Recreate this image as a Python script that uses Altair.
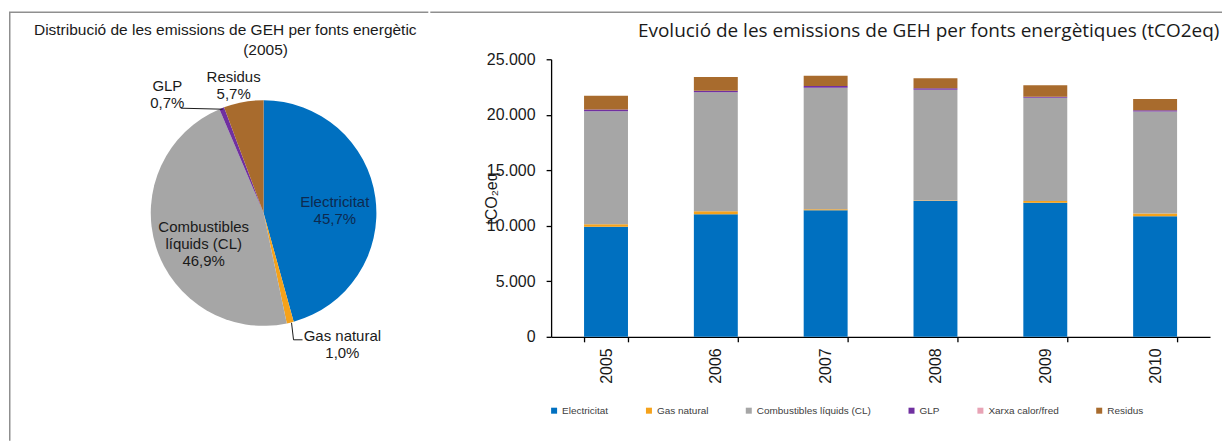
import math
import altair as alt
import pandas as pd

# ---------------- data ----------------
years = ["2005", "2006", "2007", "2008", "2009", "2010"]
sources = ["Electricitat", "Gas natural", "Combustibles líquids (CL)", "GLP",
           "Xarxa calor/fred", "Residus"]
colors = ["#0070C0", "#F5A21B", "#A6A6A6", "#7030A0", "#E8A3B5", "#A86B2D"]

electricitat = [9920, 11030, 11390, 12230, 12080, 10850]
gas_natural = [220, 270, 90, 60, 150, 250]
combustibles = [10180, 10720, 10960, 9970, 9310, 9190]
glp = [150, 150, 150, 120, 90, 110]
xarxa = [0, 0, 0, 0, 0, 0]
residus = [1240, 1230, 930, 900, 1020, 1030]

pie_sources = ["Electricitat", "Gas natural", "Combustibles líquids (CL)", "GLP", "Residus"]
pie_colors = ["#0070C0", "#F5A21B", "#A6A6A6", "#7030A0", "#A86B2D"]
pie_pct = [45.7, 1.0, 46.9, 0.7, 5.7]
pie_labels = ["Electricitat\n45,7%", "Gas natural\n1,0%",
              "Combustibles\nlíquids (CL)\n46,9%", "GLP\n0,7%", "Residus\n5,7%"]

pie_title_1 = "Distribució de les emissions de GEH per fonts energètic"
pie_title_2 = "(2005)"
bar_title = "Evolució de les emissions de GEH per fonts energètiques (tCO2eq)"
y_title = "tCO₂eq"
y_ticks = [0, 5000, 10000, 15000, 20000, 25000]

# ---------------- tables ----------------
series = [electricitat, gas_natural, combustibles, glp, xarxa, residus]
rows = []
for si, (name, vals) in enumerate(zip(sources, series)):
    for y, v in zip(years, vals):
        rows.append({"year": y, "source": name, "value": v, "idx": si})
bar_df = pd.DataFrame(rows)

pie_df = pd.DataFrame({"source": pie_sources, "pct": pie_pct,
                       "label": pie_labels, "idx": list(range(len(pie_sources)))})
one = pd.DataFrame({"k": [0]})

BORDER = "#8f8f8f"
FONT = "Liberation Sans"
OY = -47            # pie panel origin is aligned with the bar plot top
CX, CY, R = 255, 201 + OY, 113

# ---------------- pie panel ----------------
theta_scale = alt.Scale(domain=[0, 100], range=[0, 2 * math.pi])

arc = alt.Chart(pie_df).mark_arc(outerRadius=R).encode(
    theta=alt.Theta("pct:Q", stack=True, scale=theta_scale),
    color=alt.Color("source:N", scale=alt.Scale(domain=pie_sources, range=pie_colors), legend=None),
    order=alt.Order("idx:Q", sort="ascending"),
    x=alt.value(CX), y=alt.value(CY),
)


def pie_label(name, radius, dx, dy, color="#1a1a1a"):
    return (
        alt.Chart(pie_df)
        .transform_window(cum="sum(pct)", sort=[alt.SortField("idx", order="ascending")])
        .transform_calculate(mid="datum.cum - datum.pct / 2")
        .transform_filter(alt.datum.source == name)
        .mark_text(lineBreak="\n", fontSize=15, font=FONT, align="center",
                   baseline="middle", dx=dx, dy=dy, color=color, lineHeight=17)
        .encode(
            theta=alt.Theta("mid:Q", stack=None, scale=theta_scale),
            radius=alt.value(radius),
            text="label:N",
            x=alt.value(CX), y=alt.value(CY),
        )
    )


labels = [
    pie_label("Electricitat", 72, 0, -1, "#0d2a50"),
    pie_label("Combustibles líquids (CL)", 65, 2, -5),
    pie_label("GLP", 125, -50, -11),
    pie_label("Residus", 129, -7, -9),
    pie_label("Gas natural", 135, 47, -8),
]


def seg(x1, y1, x2, y2):
    return alt.Chart(one).mark_rule(color="#1a1a1a", strokeWidth=1).encode(
        x=alt.value(x1), y=alt.value(y1 + OY), x2=alt.value(x2), y2=alt.value(y2 + OY))


leaders = [seg(172, 96, 214, 97), seg(283, 311, 285, 328), seg(285, 328, 294, 328)]

pie_t1 = alt.Chart(pd.DataFrame({"t": [pie_title_1]})).mark_text(
    align="left", baseline="middle", fontSize=15.5, font=FONT, color="#1a1a1a"
).encode(text="t:N", x=alt.value(25), y=alt.value(18 + OY))
pie_t2 = alt.Chart(pd.DataFrame({"t": [pie_title_2]})).mark_text(
    align="center", baseline="middle", fontSize=15.5, font=FONT, color="#1a1a1a"
).encode(text="t:N", x=alt.value(257), y=alt.value(38 + OY))

border_left = alt.Chart(one).mark_rule(color=BORDER, strokeWidth=1.5).encode(
    x=alt.value(0.75), y=alt.value(OY), y2=alt.value(382))
border_top_l = alt.Chart(one).mark_rule(color=BORDER, strokeWidth=1.5).encode(
    x=alt.value(0), x2=alt.value(420), y=alt.value(OY))

pie_panel = alt.layer(border_left, border_top_l, arc, *labels, *leaders, pie_t1, pie_t2).properties(
    width=420, height=278)

# ---------------- bar panel ----------------
bars = alt.Chart(bar_df).mark_bar().encode(
    x=alt.X("year:N", sort=years,
            scale=alt.Scale(paddingInner=0.6, paddingOuter=0.3),
            axis=alt.Axis(title=None, labelAngle=270, labelAlign="right", labelBaseline="middle",
                          labelFontSize=16, labelFont=FONT, labelColor="#1a1a1a",
                          tickBand="extent", tickSize=5, tickColor="black", tickWidth=1.3,
                          domainColor="black", domainWidth=1.3, labelPadding=6)),
    y=alt.Y("value:Q", stack="zero",
            scale=alt.Scale(domain=[0, 25000], nice=False),
            axis=alt.Axis(values=y_ticks, grid=False,
                          labelExpr="replace(format(datum.value, ',d'), ',', '.')",
                          labelFontSize=16, labelFont=FONT, labelColor="#1a1a1a", labelPadding=11,
                          tickSize=5, tickColor="black", tickWidth=1.3,
                          domainColor="black", domainWidth=1.3,
                          title=y_title, titleFont=FONT, titleFontSize=16, titleFontWeight="normal",
                          titleColor="#1a1a1a", titleAngle=270, titleX=-60, titleY=139,
                          titleBaseline="middle", titleAlign="center")),
    color=alt.Color("source:N", scale=alt.Scale(domain=sources, range=colors),
                    legend=alt.Legend(title=None, orient="none", legendX=-2, legendY=347,
                                      direction="horizontal", columns=6, symbolType="square",
                                      symbolSize=36, symbolStrokeWidth=0, labelFontSize=10,
                                      labelFont=FONT, labelColor="#404040", columnPadding=35,
                                      labelOffset=3, padding=0, offset=0, gridAlign="each")),
    order=alt.Order("idx:Q", sort="ascending"),
)

bar_t = alt.Chart(pd.DataFrame({"t": [bar_title]})).mark_text(
    align="left", baseline="middle", fontSize=19, font="Open Sans", color="#1a1a1a"
).encode(text="t:N", x=alt.value(87), y=alt.value(-28))

border_top_r = alt.Chart(one).mark_rule(color=BORDER, strokeWidth=1.5).encode(
    x=alt.value(-121), x2=alt.value(672), y=alt.value(-47))

bar_panel = alt.layer(border_top_r, bars, bar_t).properties(width=660, height=278)

chart = (
    alt.hconcat(pie_panel, bar_panel, spacing=0)
    .resolve_scale(color="independent", theta="independent")
    .resolve_legend(color="independent")
    .properties(padding={"left": 0, "top": 3, "right": 0, "bottom": 0})
    .configure_view(stroke=None)
)

chart.save("out.html", embed_options={"renderer": "svg", "actions": False})
